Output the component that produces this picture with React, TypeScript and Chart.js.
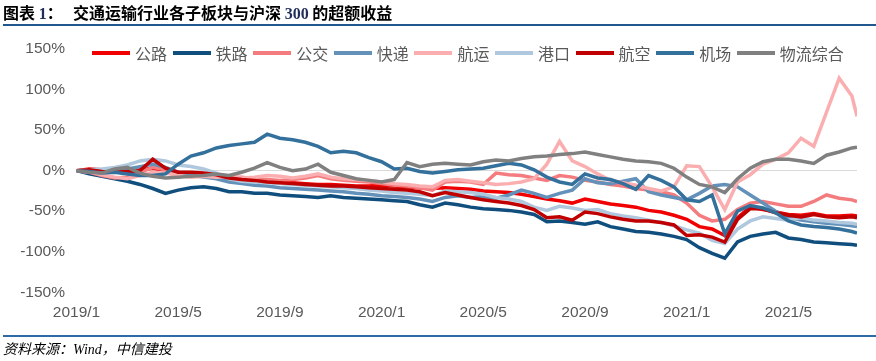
import React, { useEffect, useRef } from "react";
import { Chart, registerables } from "chart.js";

Chart.register(...registerables);

// ---- categories (half-month sampling dates) ----
const DATES: string[] = [
  "2019/1/1", "2019/1/16", "2019/2/1", "2019/2/16", "2019/3/1", "2019/3/16",
  "2019/4/1", "2019/4/16", "2019/5/1", "2019/5/16", "2019/6/1", "2019/6/16",
  "2019/7/1", "2019/7/16", "2019/8/1", "2019/8/16", "2019/9/1", "2019/9/16",
  "2019/10/1", "2019/10/16", "2019/11/1", "2019/11/16", "2019/12/1", "2019/12/16",
  "2020/1/1", "2020/1/16", "2020/2/1", "2020/2/16", "2020/3/1", "2020/3/16",
  "2020/4/1", "2020/4/16", "2020/5/1", "2020/5/16", "2020/6/1", "2020/6/16",
  "2020/7/1", "2020/7/16", "2020/8/1", "2020/8/16", "2020/9/1", "2020/9/16",
  "2020/10/1", "2020/10/16", "2020/11/1", "2020/11/16", "2020/12/1", "2020/12/16",
  "2021/1/1", "2021/1/16", "2021/2/1", "2021/2/16", "2021/3/1", "2021/3/16",
  "2021/4/1", "2021/4/16", "2021/5/1", "2021/5/16", "2021/6/1", "2021/6/16",
  "2021/7/1", "2021/7/16", "2021/7/22",
];

const X_TICK_LABELS = ["2019/1", "2019/5", "2019/9", "2020/1", "2020/5", "2020/9", "2021/1", "2021/5"];
const Y_MIN = -150;
const Y_MAX = 150;
const Y_STEP = 50;

const SERIES_NAMES = ["公路", "铁路", "公交", "快递", "航运", "港口", "航空", "机场", "物流综合"];

// ---- series values (excess return vs CSI 300, %) ----
const GONGLU = [
  0, 2, 1, -1, -2, 1, 3, 0, -3, -6,
  -7, -9, -10, -12, -13, -14, -15, -15, -16, -17,
  -17, -18, -19, -19, -18, -19, -20, -21, -22, -21,
  -22, -23, -25, -26, -27, -29, -32, -35, -37, -40,
  -35, -38, -41, -43, -45, -49, -51, -55, -60, -69,
  -72, -80, -58, -45, -48, -51, -54, -55, -53, -56,
  -56, -55, -56,
];
const TIELU = [
  0, -4, -7, -10, -13, -17, -22, -28, -24, -21,
  -20, -22, -26, -26, -28, -28, -30, -31, -32, -33,
  -31, -33, -34, -35, -36, -37, -38, -42, -45, -40,
  -42, -45, -47, -48, -49, -51, -54, -63, -62, -64,
  -66, -63, -69, -72, -75, -76, -78, -81, -85, -95,
  -102, -108, -88, -81, -78, -76, -83, -85, -88, -89,
  -90, -91, -92,
];
const GONGJIAO = [
  0, -2, -6, -9, -8, -2, 4, 1, -3, -6,
  -7, -7, -8, -8, -10, -11, -12, -11, -9, -6,
  -10, -12, -13, -14, -16, -18, -19, -21, -24, -14,
  -13, -14, -17, -3, -5, -6, -9, -12, -6, -8,
  -12, -14, -17, -19, -22, -24, -26, -30, -40, -55,
  -62, -60, -48, -40, -38, -41, -44, -44, -38, -30,
  -34, -36, -38,
];
const KUAIDI = [
  0, -2, -1, 0, 2, 5, 8, 4, -2, -6,
  -8, -10, -14, -16, -18, -19, -21, -22, -23, -24,
  -25, -26, -28, -29, -31, -32, -33, -35, -38, -33,
  -31, -33, -32, -34, -30, -24, -28, -33, -28, -24,
  -10, -15, -16, -13, -10, -26, -30, -33, -36, -28,
  -19, -17, -20, -30, -40, -50, -58, -61, -63, -65,
  -66, -68, -69,
];
const HANGYUN = [
  0, -1, -5, -8, -10, -6, -2, -3, -6, -8,
  -7, -8, -7, -9, -8, -6, -7, -9, -7, -4,
  -8, -10, -11, -12, -14, -16, -17, -19, -20, -12,
  -11, -13, -15, -17, -16, -14, -10, 8, 36, 12,
  5, -4, -12, -15, -18, -22, -25, -20, 6, 5,
  -20, -48, -14, -5, 8, 14, 22, 40, 30, 72,
  114, 92, 67,
];
const GANGKOU = [
  0, 1, 2, 4, 7, 12, 14, 12, 7, 5,
  2, -3, -10, -13, -14, -15, -16, -17, -18, -19,
  -20, -21, -22, -24, -25, -27, -28, -29, -31, -25,
  -26, -27, -29, -33, -35, -38, -45, -49, -44, -46,
  -49, -48, -53, -56, -58, -61, -64, -68, -73, -77,
  -86, -90, -72, -62, -57, -59, -61, -58, -61, -62,
  -64, -65, -66,
];
const HANGKONG = [
  0, 1, -1, -2, -1, 0, 14, 3, -2, -2,
  -3, -5, -9, -11, -12, -14, -15, -16, -17, -18,
  -19, -19, -20, -21, -22, -23, -24, -26, -31, -27,
  -30, -33, -36, -38, -40, -43, -48, -58, -57, -61,
  -51, -53, -57, -60, -62, -62, -64, -67, -80, -79,
  -82, -88, -60, -47, -47, -52, -55, -57, -54, -57,
  -58, -57, -58,
];
const JICHANG = [
  0, -1, -3, -2, -4, -6, -6, -4, 8, 18,
  22, 28, 31, 33, 35, 45, 40, 38, 35, 30,
  22, 24, 22, 16, 11, 2, 3, -1, -3, -1,
  1, 2, 3, 6, 9, 7, 1, -8, -14, -17,
  -4, -9, -11, -16, -23, -6, -12, -20, -36, -38,
  -30, -78, -50, -43, -46, -52, -62, -67, -69, -70,
  -72, -75, -77,
];
const WULIU = [
  0, -2, -3, 2, 4, -3, -7, -9, -8, -7,
  -6, -4, -6, -2, 3, 10, 4, 0, 2, 8,
  -2, -6, -10, -12, -14, -11, 10, 5, 8, 9,
  8, 7, 11, 13, 12, 15, 17, 18, 20, 21,
  23, 20, 17, 14, 12, 11, 9, 3, -8, -17,
  -20, -27, -10, 3, 11, 14, 14, 12, 9, 19,
  23, 28, 29,
];

const SERIES = [GONGLU, TIELU, GONGJIAO, KUAIDI, HANGYUN, GANGKOU, HANGKONG, JICHANG, WULIU];
const COLORS = ["#F00000", "#104E7E", "#F47C7E", "#6391BA", "#FBAEB0", "#AFC8DD", "#C00000", "#33709C", "#808080"];

function toMonthOffset(d: string): number {
  const [y, m, day] = d.split("/").map(Number);
  return (y - 2019) * 12 + (m - 1) + (day - 1) / 30;
}

const TICK_FONT = "'Liberation Sans', Arial, sans-serif";
const CJK_FONT = "'Noto Sans CJK SC', 'Noto Sans', sans-serif";

export default function App() {
  const ref = useRef<HTMLCanvasElement | null>(null);

  useEffect(() => {
    document.body.style.margin = "0";
    const canvas = ref.current;
    if (!canvas) return;
    const xs = DATES.map(toMonthOffset);
    const xMax = xs[xs.length - 1];
    const chart = new Chart(canvas, {
      type: "line",
      data: {
        datasets: SERIES.map((s, k) => ({
          label: SERIES_NAMES[k],
          data: s.map((v, i) => ({ x: xs[i], y: v })),
          borderColor: COLORS[k],
          backgroundColor: COLORS[k],
          borderWidth: 3.5,
          pointRadius: 0,
          pointHoverRadius: 0,
          tension: 0,
          order: -k,
        })),
      },
      options: {
        animation: false,
        responsive: false,
        maintainAspectRatio: false,
        devicePixelRatio: 1,
        events: [],
        layout: { padding: { left: 0, right: 19, top: 49, bottom: 0 } },
        plugins: { legend: { display: false }, tooltip: { enabled: false }, title: { display: false } },
        scales: {
          x: {
            type: "linear",
            min: 0,
            max: xMax,
            grid: { display: false, drawTicks: false },
            border: { display: false },
            ticks: {
              stepSize: 4,
              includeBounds: false,
              autoSkip: false,
              maxRotation: 0,
              minRotation: 0,
              padding: 11,
              color: "#595959",
              font: { family: TICK_FONT, size: 15.5 },
              callback: (v: any) => {
                const idx = Math.round(Number(v) / 4);
                return X_TICK_LABELS[idx] ?? "";
              },
            },
            afterFit: (s: any) => {
              s.height = 361 - 292.3;
            },
          },
          y: {
            min: Y_MIN,
            max: Y_MAX,
            grid: {
              drawTicks: false,
              lineWidth: 1,
              color: (c: any) => (c.tick && c.tick.value === 0 ? "#D9D9D9" : "rgba(0,0,0,0)"),
            },
            border: { display: false },
            ticks: {
              stepSize: Y_STEP,
              padding: 11.5,
              color: "#595959",
              font: { family: TICK_FONT, size: 15.5 },
              callback: (v: any) => `${v}%`,
            },
            afterFit: (s: any) => {
              s.width = 76.5;
            },
          },
        },
      },
    });
    return () => chart.destroy();
  }, []);

  return (
    <div style={{ position: "relative", width: 876, height: 361, background: "#fff", overflow: "hidden" }}>
      <canvas ref={ref} width={876} height={361} style={{ position: "absolute", left: 0, top: 0, width: 876, height: 361 }} />
      <div
        style={{
          position: "absolute", left: 3, top: 2, height: 20, lineHeight: "20px",
          fontFamily: CJK_FONT, fontWeight: 700, fontSize: 16, color: "#000", whiteSpace: "nowrap",
        }}
      >
        图表 <span style={{ fontFamily: "'Liberation Serif', serif", color: "#1F2D5A" }}>1</span>：
      </div>
      <div
        style={{
          position: "absolute", left: 73, top: 2, height: 20, lineHeight: "20px",
          fontFamily: CJK_FONT, fontWeight: 700, fontSize: 16, color: "#000", whiteSpace: "nowrap",
        }}
      >
        交通运输行业各子板块与沪深 <span style={{ fontFamily: "'Liberation Serif', serif", color: "#1F2D5A" }}>300</span> 的超额收益
      </div>
      <div style={{ position: "absolute", left: 3, right: 0, top: 23.5, height: 2.5, background: "#21578F" }} />
      {SERIES_NAMES.map((name, k) => (
        <div
          key={name}
          style={{
            position: "absolute", left: 92 + k * 80.6, top: 43, height: 20, display: "flex",
            alignItems: "center", whiteSpace: "nowrap",
          }}
        >
          <div style={{ width: 38, height: 4, background: COLORS[k] }} />
          <span style={{ marginLeft: 5, fontFamily: CJK_FONT, fontSize: 16, lineHeight: "20px", color: "#595959" }}>
            {name}
          </span>
        </div>
      ))}
      <div style={{ position: "absolute", left: 3, right: 0, top: 334.5, height: 2, background: "#2E6BA6" }} />
      <div
        style={{
          position: "absolute", left: 3, top: 341, height: 18, lineHeight: "18px", fontSize: 14,
          fontStyle: "italic", fontFamily: "'Liberation Serif', 'Noto Sans CJK SC', serif", color: "#000",
          whiteSpace: "nowrap",
        }}
      >
        资料来源：Wind，中信建投
      </div>
    </div>
  );
}
